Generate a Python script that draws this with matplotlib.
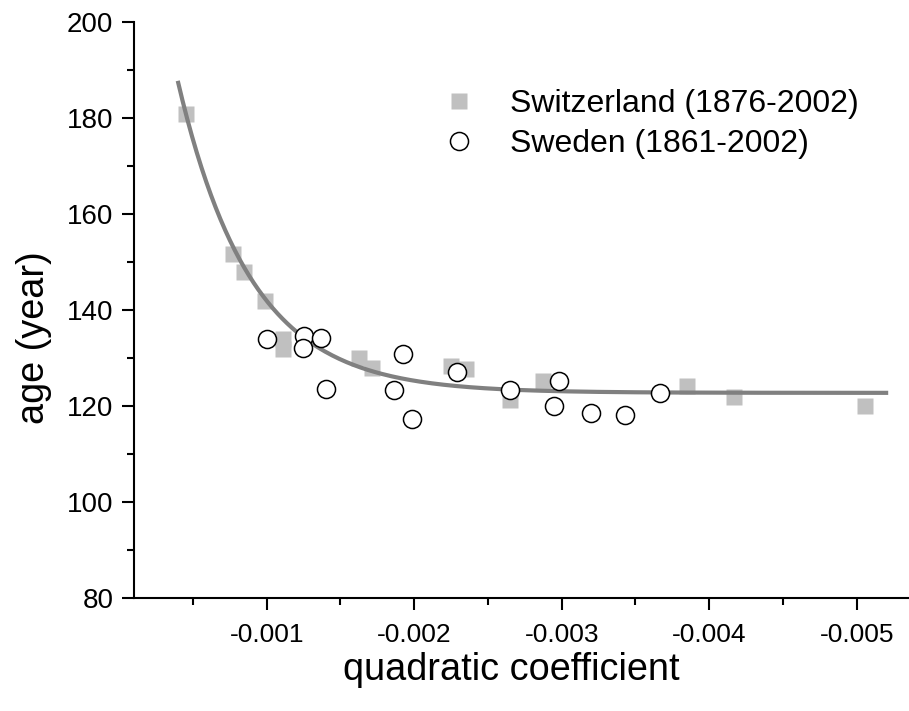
import numpy as np
import matplotlib
matplotlib.use("Agg")
import matplotlib.pyplot as plt
from matplotlib.ticker import MultipleLocator

plt.rcParams['font.family'] = ['Liberation Sans', 'DejaVu Sans']

# Switzerland (1876-2002)
swiss_x = [-0.000451, -0.000769, -0.000848, -0.000990, -0.001108, -0.001108,
           -0.001628, -0.001712, -0.002250, -0.002351, -0.002650, -0.002875,
           -0.003850, -0.004168, -0.005058]
swiss_y = [180.8, 151.7, 148.0, 141.9, 134.1, 131.9,
           130.1, 127.9, 128.5, 127.7, 121.3, 125.3,
           124.2, 122.0, 120.1]

# Sweden (1861-2002)
swe_x = [-0.001004, -0.001255, -0.001248, -0.001368, -0.001400,
         -0.001926, -0.001865, -0.001987, -0.002288, -0.002650,
         -0.002980, -0.002948, -0.003197, -0.003429, -0.003669]
swe_y = [134.0, 134.6, 132.2, 134.3, 123.6,
         130.8, 123.5, 117.4, 127.1, 123.3,
         125.2, 120.1, 118.7, 118.2, 122.7]

# exponential decay fit: y = y0 + A*exp(x/t)  (x negative)
fit_y0 = 122.8
fit_A = 145.2
fit_t = 0.000494
fit_range = (-0.000397, -0.005214)

xticks = [-0.001, -0.002, -0.003, -0.004, -0.005]
xtick_labels = ['-0.001', '-0.002', '-0.003', '-0.004', '-0.005']
yticks = [80, 100, 120, 140, 160, 180, 200]

W, H = 909, 711
fig = plt.figure(figsize=(W / 100, H / 100), dpi=100)
left, right, top, bottom = 133.5, 909, 22.3, 598.3
ax = fig.add_axes([left / W, 1 - bottom / H, (right - left) / W, (bottom - top) / H])

xf = np.linspace(fit_range[0], fit_range[1], 300)
yf = fit_y0 + fit_A * np.exp(xf / fit_t)
ax.plot(xf, yf, color='#808080', lw=3.0, zorder=2, solid_capstyle='butt')

ax.plot(swiss_x, swiss_y, ls='none', marker='s', ms=12.2, mfc='#c0c0c0',
        mec='none', zorder=1, label='Switzerland (1876-2002)')
ax.plot(swe_x, swe_y, ls='none', marker='o', ms=13.0, mfc='white',
        mec='black', mew=1.1, zorder=3, label='Sweden (1861-2002)')

ax.set_xlim(-0.000097, -0.005355)
ax.set_ylim(80, 200)
ax.set_xticks(xticks)
ax.set_xticklabels(xtick_labels)
ax.xaxis.set_minor_locator(MultipleLocator(0.0005))
ax.set_yticks(yticks)
ax.yaxis.set_minor_locator(MultipleLocator(10))

for s in ['top', 'right']:
    ax.spines[s].set_visible(False)
for s in ['left', 'bottom']:
    ax.spines[s].set_linewidth(1.5)

ax.tick_params(which='major', direction='out', length=8.5, width=1.5, pad=6)
ax.tick_params(which='minor', direction='out', length=5, width=1.5)
ax.tick_params(axis='y', which='major', labelsize=20)
ax.tick_params(axis='x', which='major', labelsize=19, pad=9)

ax.set_xlabel('quadratic coefficient', fontsize=27.3)
ax.set_ylabel('age (year)', fontsize=27.3)
ax.xaxis.set_label_coords(0.4874, -0.094)
ax.yaxis.set_label_coords(-0.105, 0.453)

ax.legend(loc='upper left', bbox_to_anchor=(440 / W, 1 - 89 / H),
          bbox_transform=fig.transFigure, frameon=False, fontsize=23,
          handlelength=1.2, handletextpad=1.0, labelspacing=0.32,
          borderaxespad=0, borderpad=0)

fig.savefig('out.png', dpi=100)
